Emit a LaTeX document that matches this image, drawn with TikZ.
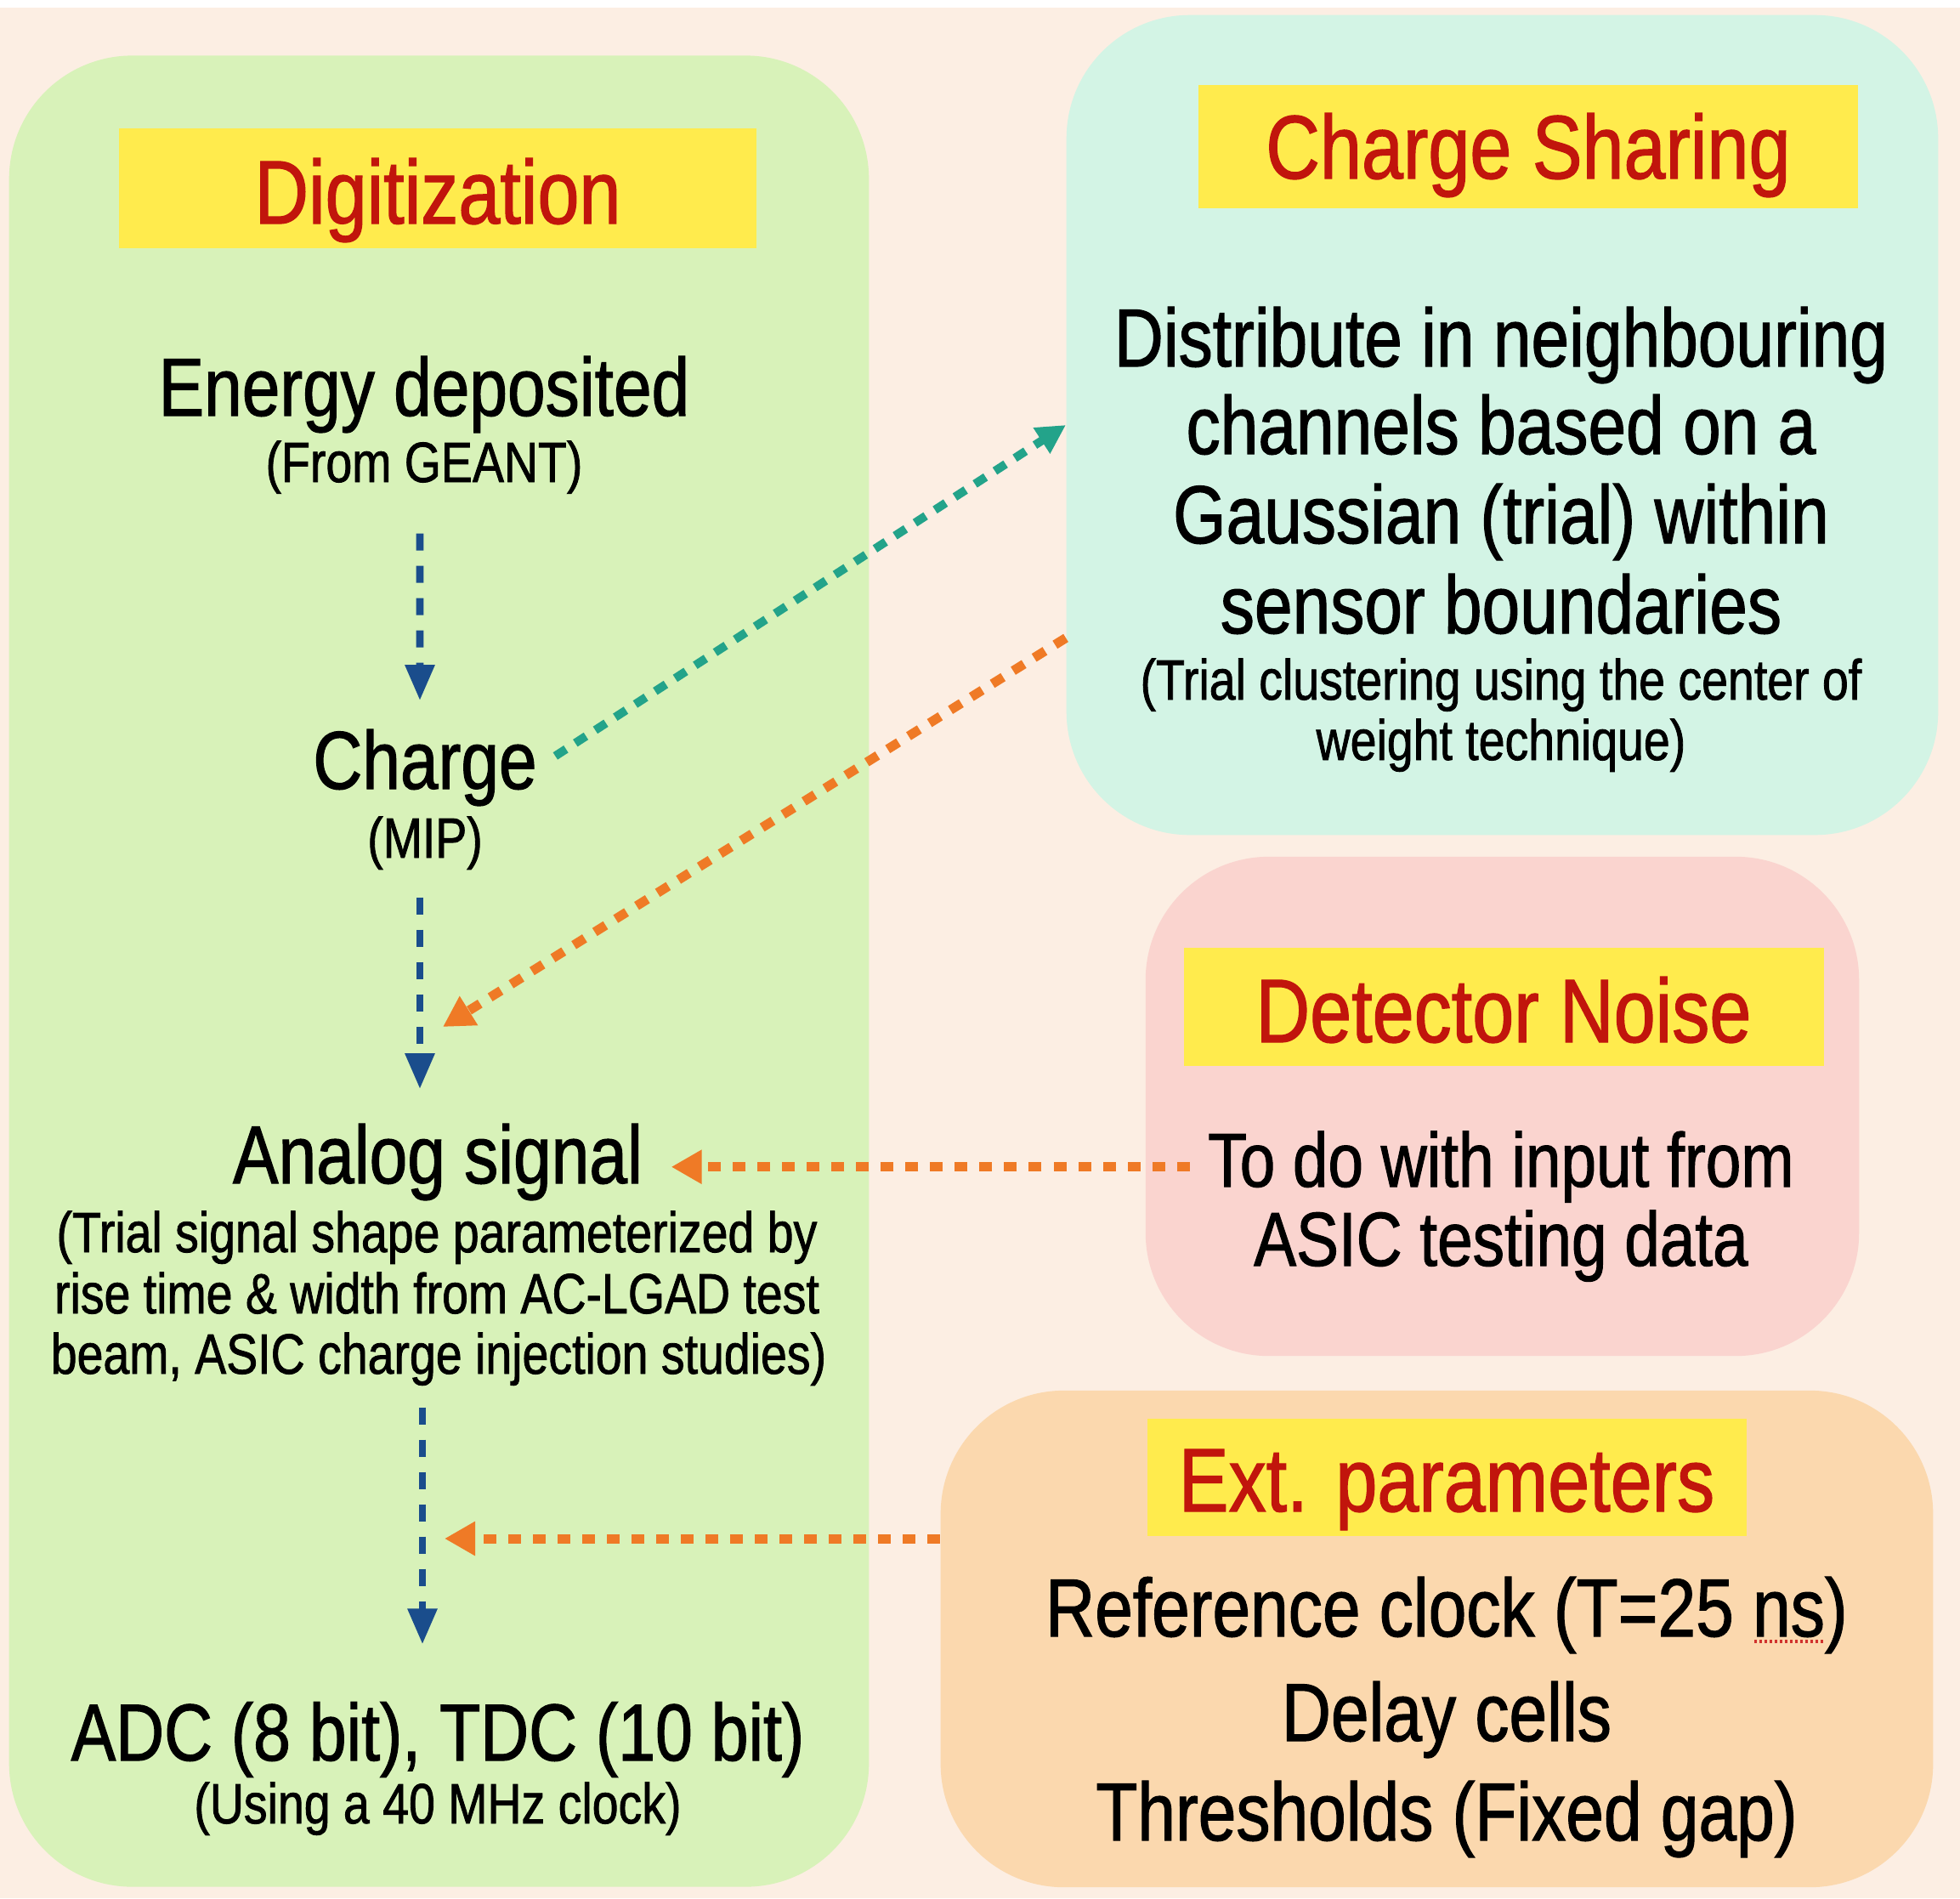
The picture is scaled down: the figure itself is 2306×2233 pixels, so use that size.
\documentclass[tikz,border=0pt]{standalone}
\usepackage{fontspec}
\setmainfont{Liberation Sans}[FakeStretch=0.83,FakeBold=1.2]
\usetikzlibrary{arrows.meta,calc}
\definecolor{bgc}{HTML}{FCEEE3}
\definecolor{greenbox}{HTML}{D8F2B9}
\definecolor{tealbox}{HTML}{D3F4E5}
\definecolor{pinkbox}{HTML}{FAD4CF}
\definecolor{orangebox}{HTML}{FBD8AE}
\definecolor{labelyellow}{HTML}{FFEB4D}
\definecolor{titlered}{HTML}{C1150C}
\definecolor{arrblue}{HTML}{1A4D8C}
\definecolor{arrteal}{HTML}{23A38A}
\definecolor{arrorange}{HTML}{EF7A26}
\definecolor{spellred}{HTML}{D0322D}
\begin{document}
\begin{tikzpicture}[x=0.01cm,y=-0.01cm,
  panel/.style={draw=none,rounded corners=1.45cm,inner sep=0pt},
  labelbox/.style={draw=none,fill=labelyellow,inner sep=0pt},
  txt/.style={inner sep=0pt,anchor=base},
  titletxt/.style={txt,text=titlered,font=\fontsize{30.2}{34}\selectfont},
  bigtxt/.style={txt,font=\fontsize{27.5}{31}\selectfont},
  midtxt/.style={txt,font=\fontsize{25.6}{29}\selectfont},
  smalltxt/.style={txt,font=\fontsize{19}{21}\selectfont},
  bluearr/.style={draw=arrblue,line width=0.087cm,dash pattern=on 0.2cm off 0.18cm,
    -{Triangle[length=0.42cm,width=0.33cm]}},
  tealarr/.style={draw=arrteal,line width=0.1cm,dash pattern=on 0.15cm off 0.13cm,
    -{Triangle[length=0.34cm,width=0.34cm]}},
  orangearr/.style={draw=arrorange,line width=0.11cm,dash pattern=on 0.15cm off 0.14cm,
    -{Triangle[length=0.36cm,width=0.38cm]}}
]
\useasboundingbox (0,0) rectangle (2306,2233);
\fill[bgc] (0,0) rectangle (2306,2233);
\fill[white] (0,0) rectangle (2306,9);

% panels
\node[panel,fill=greenbox,minimum width=10.11cm,minimum height=21.53cm] (dg) at (516.5,1142.5) {};
\node[panel,fill=tealbox,minimum width=10.25cm,minimum height=9.64cm] (cs) at (1767.5,500) {};
\node[panel,fill=pinkbox,minimum width=8.39cm,minimum height=5.87cm] (dn) at (1767.5,1301.5) {};
\node[panel,fill=orangebox,minimum width=11.67cm,minimum height=5.84cm] (ep) at (1690.5,1928) {};

% yellow labels
\node[labelbox,minimum width=7.5cm,minimum height=1.41cm] (dgl) at (515,221.5) {};
\node[labelbox,minimum width=7.76cm,minimum height=1.45cm] (csl) at (1798,172.5) {};
\node[labelbox,minimum width=7.53cm,minimum height=1.39cm] (dnl) at (1769.5,1184.5) {};
\node[labelbox,minimum width=7.05cm,minimum height=1.38cm] (epl) at (1702.5,1738) {};

% titles
\node[titletxt] (dgt) at (515,263) {Digitization};
\node[titletxt] (cst) at (1798,210) {Charge Sharing};
\node[titletxt] (dnt) at (1769,1226) {Detector Noise};
\node[titletxt] (ept) at (1702,1778) {Ext. parameters};

% digitization column
\node[bigtxt] (energy) at (499,489) {Energy deposited};
\node[smalltxt] (geant) at (499,567) {(From GEANT)};
\node[bigtxt] (charge) at (500,928) {Charge};
\node[smalltxt] (mip) at (500,1009) {(MIP)};
\node[bigtxt] (analog) at (515,1392) {Analog signal};
\node[smalltxt] (trial1) at (514,1473) {(Trial signal shape parameterized by};
\node[smalltxt] (trial2) at (514,1545) {rise time \& width from AC-LGAD test};
\node[smalltxt] (trial3) at (516,1616) {beam, ASIC charge injection studies)};
\node[txt,font=\fontsize{27}{31}\selectfont] (adc) at (515,2071) {ADC (8 bit), TDC (10 bit)};
\node[smalltxt] (clock) at (515,2145) {(Using a 40 MHz clock)};

% charge sharing
\node[bigtxt] (cs1) at (1766,431) {Distribute in neighbouring};
\node[bigtxt] (cs2) at (1766,534) {channels based on a};
\node[bigtxt] (cs3) at (1766,639) {Gaussian (trial) within};
\node[bigtxt] (cs4) at (1766,745) {sensor boundaries};
\node[smalltxt] (cs5) at (1766,823) {(Trial clustering using the center of};
\node[smalltxt] (cs6) at (1766,894) {weight technique)};

% detector noise
\node[midtxt] (todo) at (1766,1396) {To do with input from};
\node[midtxt] (asic) at (1766,1489) {ASIC testing data};

% ext parameters
\node[bigtxt] (ref) at (1702,1925) {Reference clock (T=25 ns)};
\node[bigtxt] (delay) at (1702,2048) {Delay cells};
\node[bigtxt] (thr) at (1702,2165) {Thresholds (Fixed gap)};
\draw[spellred,line width=0.035cm,dash pattern=on 0.03cm off 0.03cm]
  ([xshift=-1.10cm,yshift=-0.06cm]ref.base east) -- ([xshift=-0.28cm,yshift=-0.06cm]ref.base east);

% connectors
\coordinate (t1) at (521,1208);
\coordinate (t3) at (523,1810);
\draw[bluearr,shorten <=0.46cm,shorten >=0.33cm] ([xshift=-0.05cm]geant.south) -- ([xshift=-0.06cm]charge.north);
\draw[bluearr,shorten <=0.32cm,shorten >=0.40cm] ([xshift=-0.06cm]mip.south) -- ([xshift=-0.06cm]mip.south |- analog.north);
\draw[bluearr,shorten <=0.25cm,shorten >=0.67cm] ([xshift=-0.03cm]trial3.south -| mip.south) -- ([xshift=-0.03cm]adc.north -| mip.south);
\draw[tealarr,shorten <=0.25cm] (charge.east) -- (cs.west);
\draw[orangearr] (cs.206) -- (t1);
\draw[orangearr,shorten <=0.21cm,shorten >=0.33cm] (todo.west) -- (todo.west -| analog.east);
\draw[orangearr] (ep.west |- t3) -- (t3);
\end{tikzpicture}
\end{document}
